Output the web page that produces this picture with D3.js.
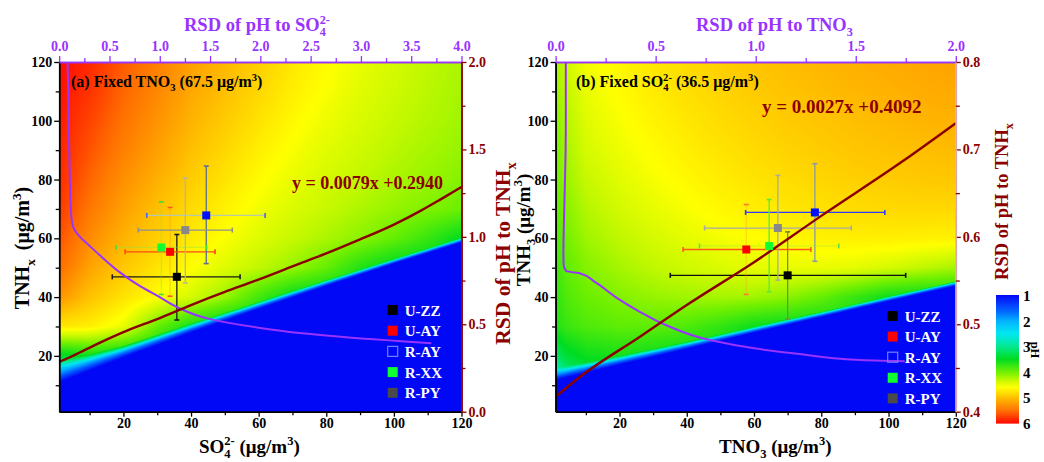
<!DOCTYPE html>
<html>
<head>
<meta charset="utf-8">
<script src="https://cdn.jsdelivr.net/npm/d3@7"></script>
<style>
body { margin: 0; background: #fff; }
svg { display: block; font-family: "Liberation Serif", "Times New Roman", serif; font-weight: bold; }
</style>
</head>
<body>
<svg id="chart" width="1044" height="462"></svg>
<script>
// ---- colour map (pH) ----
const pHStops = [1, 1.5, 2, 2.5, 3, 3.5, 4, 4.3, 4.6, 5, 5.5, 6];
const pHColors = ["#0008f5", "#0050ff", "#00b0ff", "#00e8f0", "#00e890", "#00dc20",
                  "#70f000", "#c0f800", "#ffff00", "#ffc000", "#ff7000", "#ff0a00"];
const pHTicks = [1, 2, 3, 4, 5, 6];

// ---- pH surface, panel (a): columns = SO4, rows = TNHx (bottom to top) ----
const gridAx = [0, 10, 20, 30, 40, 50, 60, 70, 80, 90, 100, 110, 120];
const gridAy = [0, 10, 20, 30, 40, 50, 60, 70, 80, 90, 100, 110, 120];
const pHGridA = [
  [2.0, 2.6, 3.2, 3.4, 3.4, 3.4, 3.4, 3.4, 3.4, 3.4, 3.4, 3.4, 3.4],
  [2.0, 2.6, 3.2, 3.4, 3.4, 3.4, 3.4, 3.4, 3.4, 3.4, 3.4, 3.4, 3.4],
  [3.4, 3.55, 3.45, 3.4, 3.4, 3.4, 3.4, 3.4, 3.4, 3.4, 3.4, 3.4, 3.4],
  [4.75, 4.7, 4.5, 3.95, 3.6, 3.4, 3.4, 3.4, 3.4, 3.4, 3.4, 3.4, 3.4],
  [5.3, 4.98, 4.78, 4.6, 4.4, 4.15, 3.8, 3.5, 3.4, 3.4, 3.4, 3.4, 3.4],
  [5.55, 5.18, 4.95, 4.77, 4.6, 4.45, 4.3, 4.15, 3.95, 3.65, 3.45, 3.4, 3.4],
  [5.67, 5.33, 5.08, 4.9, 4.73, 4.58, 4.45, 4.33, 4.22, 4.1, 3.95, 3.75, 3.5],
  [5.8, 5.45, 5.2, 5.0, 4.83, 4.68, 4.54, 4.43, 4.33, 4.23, 4.14, 4.06, 3.98],
  [5.87, 5.55, 5.3, 5.1, 4.92, 4.77, 4.62, 4.5, 4.4, 4.31, 4.22, 4.15, 4.08],
  [5.9, 5.64, 5.4, 5.2, 5.0, 4.85, 4.7, 4.57, 4.46, 4.37, 4.28, 4.2, 4.14],
  [5.93, 5.72, 5.48, 5.28, 5.08, 4.93, 4.78, 4.64, 4.52, 4.42, 4.33, 4.25, 4.18],
  [5.97, 5.8, 5.55, 5.35, 5.15, 5.0, 4.85, 4.7, 4.58, 4.46, 4.37, 4.28, 4.2],
  [6.0, 5.85, 5.6, 5.4, 5.2, 5.05, 4.9, 4.75, 4.62, 4.5, 4.4, 4.3, 4.22]
];
// edge of the acidic (blue) region and width of its cyan fringe
const edgeAx = [0, 20, 40, 60, 80, 100, 120];
const edgeAy = [14, 21.5, 29.5, 37.2, 44.8, 52.2, 59.4];
const fringeA = [3.5, 2, 1.5, 1.2, 1, 0.8, 0.8];

// ---- pH surface, panel (b): columns = TNO3, rows = TNH3 ----
const gridBx = [0, 4, 10, 20, 30, 40, 50, 60, 70, 80, 90, 100, 110, 120];
const gridBy = [0, 10, 20, 30, 40, 50, 60, 70, 80, 90, 100, 110, 120];
const pHGridB = [
  [2.2, 2.8, 3.2, 3.4, 3.5, 3.5, 3.5, 3.5, 3.5, 3.5, 3.5, 3.5, 3.5, 3.5],
  [2.2, 2.8, 3.2, 3.4, 3.5, 3.5, 3.5, 3.5, 3.5, 3.5, 3.5, 3.5, 3.5, 3.5],
  [3.1, 3.4, 3.55, 3.6, 3.55, 3.5, 3.5, 3.5, 3.5, 3.5, 3.5, 3.5, 3.5, 3.5],
  [3.6, 3.75, 3.85, 3.92, 3.92, 3.85, 3.72, 3.55, 3.5, 3.5, 3.5, 3.5, 3.5, 3.5],
  [3.65, 3.85, 3.97, 4.07, 4.14, 4.18, 4.2, 4.18, 4.1, 3.95, 3.75, 3.55, 3.5, 3.5],
  [3.7, 3.92, 4.07, 4.2, 4.3, 4.37, 4.43, 4.48, 4.5, 4.5, 4.47, 4.4, 4.3, 4.2],
  [3.77, 4.0, 4.17, 4.3, 4.4, 4.48, 4.55, 4.6, 4.65, 4.68, 4.7, 4.7, 4.69, 4.68],
  [3.83, 4.08, 4.25, 4.39, 4.49, 4.57, 4.64, 4.7, 4.75, 4.79, 4.82, 4.84, 4.85, 4.85],
  [3.9, 4.15, 4.33, 4.46, 4.56, 4.64, 4.71, 4.77, 4.82, 4.86, 4.9, 4.92, 4.94, 4.95],
  [3.95, 4.2, 4.4, 4.52, 4.62, 4.7, 4.77, 4.83, 4.88, 4.92, 4.96, 4.99, 5.01, 5.03],
  [4.0, 4.25, 4.45, 4.57, 4.67, 4.75, 4.82, 4.88, 4.93, 4.97, 5.01, 5.04, 5.07, 5.09],
  [4.08, 4.3, 4.5, 4.62, 4.72, 4.8, 4.87, 4.93, 4.98, 5.02, 5.06, 5.09, 5.12, 5.14],
  [4.15, 4.35, 4.55, 4.65, 4.75, 4.83, 4.9, 4.97, 5.02, 5.06, 5.1, 5.13, 5.16, 5.18]
];
const edgeBx = [0, 20, 40, 60, 80, 100, 120];
const edgeBy = [13.5, 18.5, 23.6, 28.9, 34.1, 39.4, 44.6];
const fringeB = [2, 1.5, 1.2, 1, 0.9, 0.8, 0.8];

// ---- RSD curves ----
const rsdSO4 = [0.083, 0.09, 0.095, 0.10, 0.106, 0.113, 0.125, 0.15, 0.206, 0.30, 0.405, 0.6, 0.8, 1.0, 1.167, 1.5, 2.0, 2.39, 2.8, 3.09, 3.4, 3.70];
const rsdSO4Tnh = [120, 110, 100, 90, 80, 72, 66, 63, 60.5, 57.5, 54.2, 48.5, 43.8, 40, 36.7, 32.5, 29.5, 27.8, 26.5, 25.7, 25, 24.3];
const rsdTNO3 = [0.051, 0.051, 0.05, 0.045, 0.041, 0.039, 0.04, 0.051, 0.08, 0.121, 0.2, 0.3, 0.421, 0.55, 0.77, 1.0, 1.22, 1.52, 1.745];
const rsdTNO3Tnh = [120, 100, 90, 75, 64, 55, 51, 49, 48.5, 48.1, 45, 40, 35, 30.5, 25.4, 22.5, 20.6, 18.6, 18.2];
const so4Line = [1, 4, 7.2, 13.1, 20, 30, 40, 50, 59.5, 72.3, 80, 90, 100, 108, 113.7, 120];
const rsdTnhA = [0.285, 0.31, 0.34, 0.395, 0.455, 0.53, 0.61, 0.685, 0.752, 0.848, 0.905, 0.985, 1.07, 1.15, 1.213, 1.285];
const tno3Line = [1.6, 8.3, 26.2, 40, 60, 80, 104.6, 120];
const rsdTnhB = [0.419, 0.44, 0.486, 0.522, 0.571, 0.624, 0.6875, 0.73];
const fitA = "y = 0.0079x +0.2940";
const fitB = "y = 0.0027x +0.4092";

// ---- sites (mean and error range) ----
const sites = ["U-ZZ", "U-AY", "R-AY", "R-XX", "R-PY"];
const so4Mean = [35.8, 33.8, 44.5, 31.2, 38.3];
const so4Lo = [16.7, 20.5, 26.9, 17.8, 24.4];
const so4Hi = [54.5, 47.1, 61.9, 44.6, 52.2];
const tnhMeanA = [46.9, 55.4, 67.8, 56.9, 62.8];
const tnhLoA = [32.2, 40.3, 51.4, 40.9, 44.8];
const tnhHiA = [61.3, 70.5, 84.6, 72.4, 80.5];
const tno3Mean = [70.0, 57.7, 78.1, 64.5, 67.1];
const tno3Lo = [35.1, 38.9, 57.5, 43.8, 45.3];
const tno3Hi = [105.1, 76.9, 98.9, 85.2, 88.9];
const tnhMeanB = [47.4, 56.2, 68.8, 57.4, 63.5];
const tnhLoB = [32.5, 40.9, 52.2, 41.8, 45.8];
const tnhHiB = [62.2, 71.5, 85.4, 73.2, 81.4];

// ---- ticks ----
const concTicks = [20, 40, 60, 80, 100, 120];
const concMinor = [10, 30, 50, 70, 90, 110];
const topTicksA = [0, 0.5, 1, 1.5, 2, 2.5, 3, 3.5, 4];
const topMinorA = [0.25, 0.75, 1.25, 1.75, 2.25, 2.75, 3.25, 3.75];
const topTicksB = [0, 0.5, 1, 1.5, 2];
const topMinorB = [0.25, 0.75, 1.25, 1.75];
const rightTicksA = [0, 0.5, 1, 1.5, 2];
const rightMinorA = [0.25, 0.75, 1.25, 1.75];
const rightTicksB = [0.4, 0.5, 0.6, 0.7, 0.8];
const rightMinorB = [0.45, 0.55, 0.65, 0.75];

// ---- styles ----
const purple = "#9933ff", darkRed = "#8b0000";
const markFill = ["#000000", "#ff0000", "#0010ff", "#10ff30", "#888888"];
const legFill = ["#000000", "#ff0000", "none", "#10ff30", "#4a4a4a"];
const hBarA = ["#1a1a1a", "#ff4a1a", "#b9c9a8", "rgba(120,230,80,0.35)", "#8f8f8f"];
const vBarA = ["#1a1a1a", "rgba(255,140,40,0.35)", "#5c7090", "rgba(120,230,80,0.35)", "#b5b5a5"];
const hCapA = ["#1a1a1a", "#ff4a1a", "#5060e0", "#40dd40", "#8f8f8f"];
const vCapA = ["#1a1a1a", "#ff5a20", "#5c7090", "#40dd40", "#b5b5a5"];
const hBarB = ["#101010", "#ff5a1a", "#2a3cff", "rgba(120,230,80,0.3)", "#a8a8a8"];
const vBarB = ["#6e8f4a", "rgba(255,140,40,0.3)", "#8a98a8", "#5ee83a", "#a8a8a8"];
const hCapB = ["#101010", "#ff5a1a", "#2a3cff", "#60e040", "#a8a8a8"];
const vCapB = ["#6e8f4a", "#ff7a30", "#8a98a8", "#5ee83a", "#a8a8a8"];

const svg = d3.select("#chart");
const color = d3.scaleLinear().domain(pHStops).range(pHColors).clamp(true);
const lut = d3.range(0, 501).map(i => d3.rgb(color(1 + i / 100)));

function bilinear(gx, gy, vals, xv, yv) {
  const i = Math.max(0, Math.min(d3.bisectRight(gx, xv) - 1, gx.length - 2));
  const j = Math.max(0, Math.min(d3.bisectRight(gy, yv) - 1, gy.length - 2));
  const tx = Math.max(0, Math.min(1, (xv - gx[i]) / (gx[i + 1] - gx[i])));
  const ty = Math.max(0, Math.min(1, (yv - gy[j]) / (gy[j + 1] - gy[j])));
  return vals[j][i] * (1 - tx) * (1 - ty) + vals[j][i + 1] * tx * (1 - ty) +
         vals[j + 1][i] * (1 - tx) * ty + vals[j + 1][i + 1] * tx * ty;
}

function drawHeat(g, xs, ys, gx, gy, vals, ex, ey, ew) {
  const [x0, x1] = xs.range(), [yb, yt] = ys.range();
  const W = Math.round(x1 - x0), H = Math.round(yb - yt);
  const cv = document.createElement("canvas");
  cv.width = W; cv.height = H;
  const ctx = cv.getContext("2d");
  const img = ctx.createImageData(W, H);
  const edge = d3.scaleLinear().domain(ex).range(ey);
  const fr = d3.scaleLinear().domain(ex).range(ew);
  for (let i = 0; i < W; i++) {
    const xv = xs.invert(x0 + i + 0.5);
    const e = edge(xv), w = fr(xv);
    for (let j = 0; j < H; j++) {
      const yv = ys.invert(yt + j + 0.5);
      const d = yv - e;
      let p;
      if (d < -w) p = 1.0;
      else if (d < 0) p = 1.0 + 0.9 * (d + w) / w;
      else {
        const f = bilinear(gx, gy, vals, xv, yv);
        p = d < w ? 1.9 + (f - 1.9) * d / w : f;
      }
      const c = lut[Math.max(0, Math.min(500, Math.round((p - 1) * 100)))];
      const k = (j * W + i) * 4;
      img.data[k] = c.r; img.data[k + 1] = c.g; img.data[k + 2] = c.b; img.data[k + 3] = 255;
    }
  }
  ctx.putImageData(img, 0, 0);
  g.append("image").attr("x", x0).attr("y", yt).attr("width", W).attr("height", H)
    .attr("preserveAspectRatio", "none").attr("href", cv.toDataURL());
}

function rich(t, segs, size) {
  let off = 0;
  segs.forEach(s => {
    const k = s[1] || "n";
    const target = k === "sub" ? 0.28 * size : k === "sup" ? -0.4 * size : 0;
    const ts = t.append("tspan").text(s[0]).attr("dy", (target - off).toFixed(2));
    if (k !== "n") ts.attr("font-size", (0.66 * size).toFixed(1));
    if (s[2]) ts.attr("dx", s[2]);
    off = target;
  });
}

function label(x, y, size, fill, segs, rot, anchor) {
  const t = svg.append("text").attr("font-size", size).attr("fill", fill)
    .attr("text-anchor", anchor || "start")
    .attr("transform", `translate(${x},${y})` + (rot ? ` rotate(${rot})` : ""));
  rich(t, segs, size);
  return t;
}

function styleAxis(sel, color, lineColor) {
  sel.attr("font-family", null).attr("font-size", null);
  sel.select(".domain").attr("stroke", lineColor || color).attr("stroke-width", 1.5);
  sel.selectAll(".tick line").attr("stroke", color).attr("stroke-width", 1.3);
  sel.selectAll(".tick text").attr("fill", color).style("font-size", "14px");
}

function drawPanel(cfg) {
  const x = d3.scaleLinear().domain([1, 120]).range([cfg.left, cfg.right]);
  const y = d3.scaleLinear().domain([1, 120]).range([411.7, 62]);
  const xt = d3.scaleLinear().domain([0, cfg.topMax]).range([cfg.left, cfg.right]);
  const yr = d3.scaleLinear().domain(cfg.rDom).range([411.7, 62]);
  const g = svg.append("g");

  drawHeat(g, x, y, cfg.gx, cfg.gy, cfg.grid, cfg.ex, cfg.ey, cfg.ew);

  // error bars
  const bars = g.append("g").attr("stroke-width", 1.3);
  sites.forEach((s, i) => {
    const cx = x(cfg.mx[i]), cy = y(cfg.my[i]);
    bars.append("line").attr("x1", x(cfg.xlo[i])).attr("x2", x(cfg.xhi[i]))
      .attr("y1", cy).attr("y2", cy).attr("stroke", cfg.hBar[i]);
    bars.append("line").attr("x1", cx).attr("x2", cx)
      .attr("y1", y(cfg.ylo[i])).attr("y2", y(cfg.yhi[i])).attr("stroke", cfg.vBar[i]);
    [cfg.xlo[i], cfg.xhi[i]].forEach(v => bars.append("line")
      .attr("x1", x(v)).attr("x2", x(v)).attr("y1", cy - 2.5).attr("y2", cy + 2.5)
      .attr("stroke", cfg.hCap[i]).attr("stroke-width", 1.6));
    [cfg.ylo[i], cfg.yhi[i]].forEach(v => bars.append("line")
      .attr("x1", cx - 2.5).attr("x2", cx + 2.5).attr("y1", y(v)).attr("y2", y(v))
      .attr("stroke", cfg.vCap[i]).attr("stroke-width", 1.6));
  });

  // RSD to the panel variable (purple, top axis vs TNH)
  g.append("path")
    .datum(d3.zip(cfg.pRsd, cfg.pTnh))
    .attr("fill", "none").attr("stroke", purple).attr("stroke-width", 2)
    .attr("d", d3.line().x(d => xt(d[0])).y(d => y(d[1])).curve(d3.curveMonotoneY));

  // RSD to TNH (dark red, bottom axis vs right axis)
  g.append("path")
    .datum(d3.zip(cfg.rX, cfg.rRsd))
    .attr("fill", "none").attr("stroke", darkRed).attr("stroke-width", 2.4)
    .attr("d", d3.line().x(d => x(d[0])).y(d => yr(d[1])).curve(d3.curveMonotoneX));

  // site means
  g.selectAll(".pt").data(sites).join("rect")
    .attr("x", (d, i) => x(cfg.mx[i]) - 4).attr("y", (d, i) => y(cfg.my[i]) - 4)
    .attr("width", 8).attr("height", 8)
    .attr("fill", (d, i) => markFill[i]);

  // legend
  const lg = g.append("g");
  sites.forEach((s, i) => {
    const ly = cfg.legY + i * cfg.legDy;
    lg.append("rect").attr("x", cfg.legX - 5).attr("y", ly - 5).attr("width", 10).attr("height", 10)
      .attr("fill", legFill[i]).attr("stroke", i === 2 ? "#7080ff" : "none").attr("stroke-width", 1.2);
    lg.append("text").attr("x", cfg.legX + 12).attr("y", ly + 5.5)
      .attr("fill", "#fff").attr("font-size", 15).text(s);
  });

  // axes
  const ax = [
    [d3.axisBottom(x).tickValues(concTicks).tickSize(5).tickPadding(1), `translate(0,411.7)`, "#000"],
    [d3.axisBottom(x).tickValues(concMinor).tickSize(3.5).tickFormat(""), `translate(0,411.7)`, "#000"],
    [d3.axisLeft(y).tickValues(concTicks).tickSize(5).tickPadding(2), `translate(${cfg.left},0)`, "#000"],
    [d3.axisLeft(y).tickValues(concMinor).tickSize(3.5).tickFormat(""), `translate(${cfg.left},0)`, "#000"],
    [d3.axisTop(xt).tickValues(cfg.topTicks).tickSize(6).tickPadding(5).tickFormat(d3.format(".1f")), `translate(0,62)`, purple],
    [d3.axisTop(xt).tickValues(cfg.topMinor).tickSize(4).tickFormat(""), `translate(0,62)`, purple],
    [d3.axisRight(yr).tickValues(cfg.rTicks).tickSize(5).tickPadding(2).tickFormat(d3.format(".1f")), `translate(${cfg.right},0)`, darkRed, cfg.rLine],
    [d3.axisRight(yr).tickValues(cfg.rMinor).tickSize(4).tickFormat(""), `translate(${cfg.right},0)`, darkRed, cfg.rLine]
  ];
  ax.forEach(([a, tr, c, lc]) => {
    const s = svg.append("g").attr("transform", tr).call(a.tickSizeOuter(0));
    styleAxis(s, c, lc);
  });
}

drawPanel({
  left: 59.2, right: 461.5, topMax: 4, rDom: [0, 2],
  gx: gridAx, gy: gridAy, grid: pHGridA, ex: edgeAx, ey: edgeAy, ew: fringeA,
  mx: so4Mean, my: tnhMeanA, xlo: so4Lo, xhi: so4Hi, ylo: tnhLoA, yhi: tnhHiA,
  hBar: hBarA, vBar: vBarA, hCap: hCapA, vCap: vCapA,
  pRsd: rsdSO4, pTnh: rsdSO4Tnh, rX: so4Line, rRsd: rsdTnhA,
  topTicks: topTicksA, topMinor: topMinorA, rTicks: rightTicksA, rMinor: rightMinorA,
  rLine: darkRed, legX: 392.7, legY: 310, legDy: 20.7
});
drawPanel({
  left: 555.6, right: 955.8, topMax: 2, rDom: [0.4, 0.8],
  gx: gridBx, gy: gridBy, grid: pHGridB, ex: edgeBx, ey: edgeBy, ew: fringeB,
  mx: tno3Mean, my: tnhMeanB, xlo: tno3Lo, xhi: tno3Hi, ylo: tnhLoB, yhi: tnhHiB,
  hBar: hBarB, vBar: vBarB, hCap: hCapB, vCap: vCapB,
  pRsd: rsdTNO3, pTnh: rsdTNO3Tnh, rX: tno3Line, rRsd: rsdTnhB,
  topTicks: topTicksB, topMinor: topMinorB, rTicks: rightTicksB, rMinor: rightMinorB,
  rLine: "#dba8a8", legX: 892.7, legY: 316, legDy: 20.6
});

// ---- titles and notes ----
const so4Segs = s => [["SO"], ["4", "sub"], ["2-", "sup", (-0.33 * s).toFixed(1)]];
label(184, 31, 18.5, purple, [["RSD of pH to "], ...so4Segs(18.5)]);
label(696, 31, 18.5, purple, [["RSD of pH to TNO"], ["3", "sub"]]);
label(199, 453, 19, "#000", [...so4Segs(19), [" (μg/m"], ["3", "sup"], [")"]]);
label(719, 453, 19, "#000", [["TNO"], ["3", "sub"], [" (μg/m"], ["3", "sup"], [")"]]);
label(29, 248, 20, "#000", [["TNH"], ["x", "sub"], ["(μg/m", "n", 9], ["3", "sup"], [")"]], -90, "middle");
label(530, 230, 19, "#000", [["TNH"], ["3", "sub"], [" (μg/m"], ["3", "sup"], [")"]], -90, "middle");
label(510, 253.5, 21.5, darkRed, [["RSD of pH to TNH"], ["x", "sub"]], -90, "middle");
label(1008, 201.5, 18.5, darkRed, [["RSD of pH to TNH"], ["x", "sub"]], -90, "middle");
label(71, 87, 16, "#000", [["(a) Fixed TNO"], ["3", "sub"], [" (67.5 μg/m"], ["3", "sup"], [")"]]);
label(576, 87, 16, "#000", [["(b) Fixed "], ...so4Segs(16), [" (36.5 μg/m"], ["3", "sup"], [")"]]);
label(292, 189, 18, darkRed, [[fitA]]);
label(762, 113, 19, darkRed, [[fitB]]);

// ---- colour bar ----
const cb = d3.scaleLinear().domain([1, 6]).range([295, 423]);
const cbg = svg.append("g");
cbg.selectAll("rect").data(d3.range(1, 6, 0.02)).join("rect")
  .attr("x", 996).attr("width", 23)
  .attr("y", d => cb(d)).attr("height", cb(1.02) - cb(1) + 0.6)
  .attr("fill", d => color(d));
cbg.selectAll("text").data(pHTicks).join("text")
  .attr("x", 1023).attr("y", d => cb(d) + 6).attr("font-size", 15).attr("fill", "#000")
  .text(d => d);
label(1031, 350, 12.5, "#000", [["pH"]], 90, "middle");
</script>
</body>
</html>
